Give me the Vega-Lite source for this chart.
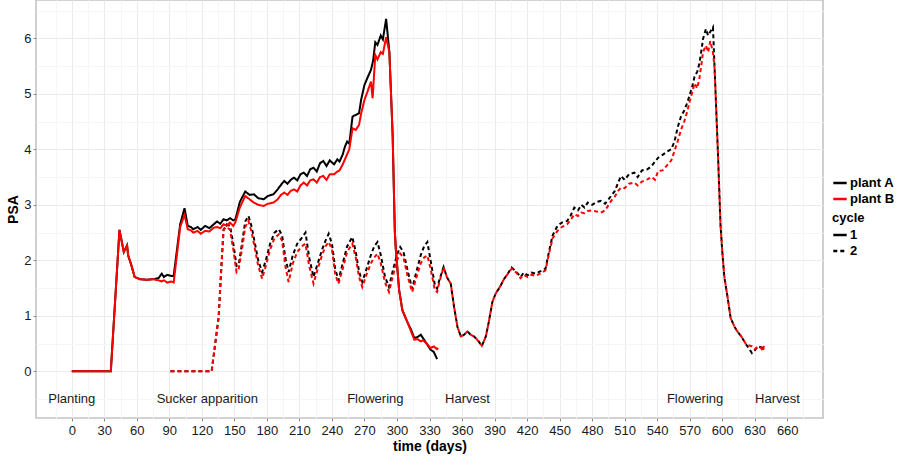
{
  "$schema": "https://vega.github.io/schema/vega-lite/v6.json",
  "width": 787,
  "height": 418,
  "autosize": "none",
  "padding": {"left": 36, "top": 0, "right": 75, "bottom": 41},
  "background": "white",
  "config": {
    "font": "Liberation Sans",
    "view": {"stroke": "#c4c4c4", "strokeWidth": 1.6},
    "axis": {"labelFont": "Liberation Sans", "titleFont": "Liberation Sans"},
    "legend": {"labelFont": "Liberation Sans", "titleFont": "Liberation Sans"}
  },
  "resolve": {"axis": {"x": "independent", "y": "independent"}},
  "layer": [
    {
      "data": {"values": [
        {"day": 0, "psa": -0.5, "label": "Planting"},
        {"day": 125, "psa": -0.5, "label": "Sucker apparition"},
        {"day": 280, "psa": -0.5, "label": "Flowering"},
        {"day": 365, "psa": -0.5, "label": "Harvest"},
        {"day": 575, "psa": -0.5, "label": "Flowering"},
        {"day": 651, "psa": -0.5, "label": "Harvest"}
      ]},
      "mark": {"type": "text", "fontSize": 13, "color": "#1a1a1a", "baseline": "middle", "align": "center"},
      "encoding": {
        "x": {"field": "day", "type": "quantitative", "scale": {"domain": [-33, 693], "nice": false, "zero": false},
          "axis": {"orient": "bottom", "values": [-15, 15, 45, 75, 105, 135, 165, 195, 225, 255, 285, 315, 345, 375, 405, 435, 465, 495, 525, 555, 585, 615, 645, 675], "grid": true, "gridColor": "#f6f6f6", "gridWidth": 1, "labels": false, "ticks": false, "domain": false, "title": null}},
        "y": {"field": "psa", "type": "quantitative", "scale": {"domain": [-0.84, 6.69], "nice": false, "zero": false},
          "axis": {"orient": "left", "values": [-0.5, 0.5, 1.5, 2.5, 3.5, 4.5, 5.5, 6.5], "grid": true, "gridColor": "#f6f6f6", "gridWidth": 1, "labels": false, "ticks": false, "domain": false, "title": null}},
        "text": {"field": "label"}
      }
    },
    {
      "data": {"values": [
        {"day":0,"psa":0,"plant":"plant A","cycle":"1"},{"day":36,"psa":0,"plant":"plant A","cycle":"1"},{"day":44,"psa":2.55,"plant":"plant A","cycle":"1"},{"day":48,"psa":2.15,"plant":"plant A","cycle":"1"},{"day":51,"psa":2.27,"plant":"plant A","cycle":"1"},{"day":52,"psa":2.09,"plant":"plant A","cycle":"1"},{"day":55,"psa":1.91,"plant":"plant A","cycle":"1"},{"day":58,"psa":1.7,"plant":"plant A","cycle":"1"},{"day":63,"psa":1.66,"plant":"plant A","cycle":"1"},{"day":69,"psa":1.65,"plant":"plant A","cycle":"1"},{"day":75,"psa":1.66,"plant":"plant A","cycle":"1"},{"day":80,"psa":1.68,"plant":"plant A","cycle":"1"},{"day":83,"psa":1.76,"plant":"plant A","cycle":"1"},{"day":85,"psa":1.7,"plant":"plant A","cycle":"1"},{"day":88,"psa":1.74,"plant":"plant A","cycle":"1"},{"day":92,"psa":1.72,"plant":"plant A","cycle":"1"},{"day":94,"psa":1.72,"plant":"plant A","cycle":"1"},{"day":100,"psa":2.65,"plant":"plant A","cycle":"1"},{"day":104,"psa":2.94,"plant":"plant A","cycle":"1"},{"day":107,"psa":2.62,"plant":"plant A","cycle":"1"},{"day":110,"psa":2.6,"plant":"plant A","cycle":"1"},{"day":112,"psa":2.56,"plant":"plant A","cycle":"1"},{"day":116,"psa":2.6,"plant":"plant A","cycle":"1"},{"day":119,"psa":2.55,"plant":"plant A","cycle":"1"},{"day":123,"psa":2.62,"plant":"plant A","cycle":"1"},{"day":127,"psa":2.58,"plant":"plant A","cycle":"1"},{"day":131,"psa":2.65,"plant":"plant A","cycle":"1"},{"day":134,"psa":2.7,"plant":"plant A","cycle":"1"},{"day":137,"psa":2.66,"plant":"plant A","cycle":"1"},{"day":140,"psa":2.74,"plant":"plant A","cycle":"1"},{"day":143,"psa":2.72,"plant":"plant A","cycle":"1"},{"day":146,"psa":2.76,"plant":"plant A","cycle":"1"},{"day":149,"psa":2.72,"plant":"plant A","cycle":"1"},{"day":151,"psa":2.74,"plant":"plant A","cycle":"1"},{"day":155,"psa":3.05,"plant":"plant A","cycle":"1"},{"day":160,"psa":3.24,"plant":"plant A","cycle":"1"},{"day":164,"psa":3.18,"plant":"plant A","cycle":"1"},{"day":168,"psa":3.19,"plant":"plant A","cycle":"1"},{"day":172,"psa":3.12,"plant":"plant A","cycle":"1"},{"day":177,"psa":3.1,"plant":"plant A","cycle":"1"},{"day":181,"psa":3.16,"plant":"plant A","cycle":"1"},{"day":186,"psa":3.19,"plant":"plant A","cycle":"1"},{"day":190,"psa":3.28,"plant":"plant A","cycle":"1"},{"day":193,"psa":3.36,"plant":"plant A","cycle":"1"},{"day":196,"psa":3.43,"plant":"plant A","cycle":"1"},{"day":199,"psa":3.38,"plant":"plant A","cycle":"1"},{"day":202,"psa":3.45,"plant":"plant A","cycle":"1"},{"day":205,"psa":3.49,"plant":"plant A","cycle":"1"},{"day":208,"psa":3.44,"plant":"plant A","cycle":"1"},{"day":211,"psa":3.55,"plant":"plant A","cycle":"1"},{"day":214,"psa":3.58,"plant":"plant A","cycle":"1"},{"day":217,"psa":3.52,"plant":"plant A","cycle":"1"},{"day":220,"psa":3.64,"plant":"plant A","cycle":"1"},{"day":223,"psa":3.67,"plant":"plant A","cycle":"1"},{"day":226,"psa":3.6,"plant":"plant A","cycle":"1"},{"day":229,"psa":3.75,"plant":"plant A","cycle":"1"},{"day":232,"psa":3.79,"plant":"plant A","cycle":"1"},{"day":235,"psa":3.7,"plant":"plant A","cycle":"1"},{"day":238,"psa":3.8,"plant":"plant A","cycle":"1"},{"day":242,"psa":3.73,"plant":"plant A","cycle":"1"},{"day":245,"psa":3.82,"plant":"plant A","cycle":"1"},{"day":247,"psa":3.78,"plant":"plant A","cycle":"1"},{"day":250,"psa":3.91,"plant":"plant A","cycle":"1"},{"day":252,"psa":4.05,"plant":"plant A","cycle":"1"},{"day":254,"psa":4.14,"plant":"plant A","cycle":"1"},{"day":256,"psa":4.1,"plant":"plant A","cycle":"1"},{"day":259,"psa":4.59,"plant":"plant A","cycle":"1"},{"day":262,"psa":4.62,"plant":"plant A","cycle":"1"},{"day":265,"psa":4.65,"plant":"plant A","cycle":"1"},{"day":267,"psa":4.9,"plant":"plant A","cycle":"1"},{"day":270,"psa":5.16,"plant":"plant A","cycle":"1"},{"day":273,"psa":5.3,"plant":"plant A","cycle":"1"},{"day":276,"psa":5.43,"plant":"plant A","cycle":"1"},{"day":278,"psa":5.6,"plant":"plant A","cycle":"1"},{"day":280,"psa":5.93,"plant":"plant A","cycle":"1"},{"day":282,"psa":5.88,"plant":"plant A","cycle":"1"},{"day":285,"psa":6.05,"plant":"plant A","cycle":"1"},{"day":287,"psa":5.98,"plant":"plant A","cycle":"1"},{"day":290,"psa":6.35,"plant":"plant A","cycle":"1"},{"day":293,"psa":5.75,"plant":"plant A","cycle":"1"},{"day":296,"psa":4.26,"plant":"plant A","cycle":"1"},{"day":298,"psa":2.53,"plant":"plant A","cycle":"1"},{"day":299,"psa":2.18,"plant":"plant A","cycle":"1"},{"day":302,"psa":1.46,"plant":"plant A","cycle":"1"},{"day":305,"psa":1.1,"plant":"plant A","cycle":"1"},{"day":310,"psa":0.87,"plant":"plant A","cycle":"1"},{"day":313,"psa":0.75,"plant":"plant A","cycle":"1"},{"day":316,"psa":0.6,"plant":"plant A","cycle":"1"},{"day":319,"psa":0.62,"plant":"plant A","cycle":"1"},{"day":322,"psa":0.66,"plant":"plant A","cycle":"1"},{"day":324,"psa":0.6,"plant":"plant A","cycle":"1"},{"day":327,"psa":0.51,"plant":"plant A","cycle":"1"},{"day":331,"psa":0.39,"plant":"plant A","cycle":"1"},{"day":334,"psa":0.35,"plant":"plant A","cycle":"1"},{"day":337,"psa":0.22,"plant":"plant A","cycle":"1"},

        {"day":91,"psa":0,"plant":"plant A","cycle":"2"},{"day":129,"psa":0,"plant":"plant A","cycle":"2"},{"day":132,"psa":0.45,"plant":"plant A","cycle":"2"},{"day":135.5,"psa":0.98,"plant":"plant A","cycle":"2"},{"day":138,"psa":1.88,"plant":"plant A","cycle":"2"},{"day":140,"psa":2.55,"plant":"plant A","cycle":"2"},{"day":143,"psa":2.65,"plant":"plant A","cycle":"2"},{"day":146,"psa":2.62,"plant":"plant A","cycle":"2"},{"day":149,"psa":2.3,"plant":"plant A","cycle":"2"},{"day":152,"psa":1.9,"plant":"plant A","cycle":"2"},{"day":154,"psa":1.92,"plant":"plant A","cycle":"2"},{"day":157,"psa":2.3,"plant":"plant A","cycle":"2"},{"day":160,"psa":2.7,"plant":"plant A","cycle":"2"},{"day":163,"psa":2.8,"plant":"plant A","cycle":"2"},{"day":166,"psa":2.6,"plant":"plant A","cycle":"2"},{"day":169,"psa":2.3,"plant":"plant A","cycle":"2"},{"day":172,"psa":2.0,"plant":"plant A","cycle":"2"},{"day":175.6,"psa":1.79,"plant":"plant A","cycle":"2"},{"day":179,"psa":2.0,"plant":"plant A","cycle":"2"},{"day":183,"psa":2.3,"plant":"plant A","cycle":"2"},{"day":187,"psa":2.5,"plant":"plant A","cycle":"2"},{"day":191,"psa":2.56,"plant":"plant A","cycle":"2"},{"day":194,"psa":2.45,"plant":"plant A","cycle":"2"},{"day":197,"psa":2.05,"plant":"plant A","cycle":"2"},{"day":200,"psa":1.79,"plant":"plant A","cycle":"2"},{"day":204,"psa":2.1,"plant":"plant A","cycle":"2"},{"day":208,"psa":2.3,"plant":"plant A","cycle":"2"},{"day":212,"psa":2.4,"plant":"plant A","cycle":"2"},{"day":215.6,"psa":2.5,"plant":"plant A","cycle":"2"},{"day":219,"psa":2.05,"plant":"plant A","cycle":"2"},{"day":223,"psa":1.7,"plant":"plant A","cycle":"2"},{"day":227,"psa":1.95,"plant":"plant A","cycle":"2"},{"day":231,"psa":2.2,"plant":"plant A","cycle":"2"},{"day":234,"psa":2.35,"plant":"plant A","cycle":"2"},{"day":237,"psa":2.48,"plant":"plant A","cycle":"2"},{"day":240,"psa":2.3,"plant":"plant A","cycle":"2"},{"day":243,"psa":1.85,"plant":"plant A","cycle":"2"},{"day":246,"psa":1.64,"plant":"plant A","cycle":"2"},{"day":250,"psa":1.95,"plant":"plant A","cycle":"2"},{"day":254,"psa":2.25,"plant":"plant A","cycle":"2"},{"day":258.8,"psa":2.42,"plant":"plant A","cycle":"2"},{"day":262,"psa":2.15,"plant":"plant A","cycle":"2"},{"day":265,"psa":1.8,"plant":"plant A","cycle":"2"},{"day":268,"psa":1.61,"plant":"plant A","cycle":"2"},{"day":272,"psa":1.85,"plant":"plant A","cycle":"2"},{"day":276,"psa":2.1,"plant":"plant A","cycle":"2"},{"day":279,"psa":2.25,"plant":"plant A","cycle":"2"},{"day":282,"psa":2.33,"plant":"plant A","cycle":"2"},{"day":285,"psa":2.1,"plant":"plant A","cycle":"2"},{"day":289,"psa":1.7,"plant":"plant A","cycle":"2"},{"day":292.6,"psa":1.52,"plant":"plant A","cycle":"2"},{"day":296,"psa":1.8,"plant":"plant A","cycle":"2"},{"day":300,"psa":2.1,"plant":"plant A","cycle":"2"},{"day":303,"psa":2.24,"plant":"plant A","cycle":"2"},{"day":306,"psa":2.15,"plant":"plant A","cycle":"2"},{"day":310,"psa":1.8,"plant":"plant A","cycle":"2"},{"day":314,"psa":1.49,"plant":"plant A","cycle":"2"},{"day":318,"psa":1.8,"plant":"plant A","cycle":"2"},{"day":322,"psa":2.1,"plant":"plant A","cycle":"2"},{"day":325,"psa":2.25,"plant":"plant A","cycle":"2"},{"day":328,"psa":2.33,"plant":"plant A","cycle":"2"},{"day":331,"psa":2.0,"plant":"plant A","cycle":"2"},{"day":335,"psa":1.55,"plant":"plant A","cycle":"2"},{"day":337,"psa":1.49,"plant":"plant A","cycle":"2"},{"day":339,"psa":1.64,"plant":"plant A","cycle":"2"},{"day":343,"psa":1.88,"plant":"plant A","cycle":"2"},{"day":346,"psa":1.7,"plant":"plant A","cycle":"2"},{"day":349.6,"psa":1.58,"plant":"plant A","cycle":"2"},{"day":352.7,"psa":1.16,"plant":"plant A","cycle":"2"},{"day":355.8,"psa":0.8,"plant":"plant A","cycle":"2"},{"day":358.9,"psa":0.63,"plant":"plant A","cycle":"2"},{"day":362,"psa":0.66,"plant":"plant A","cycle":"2"},{"day":365,"psa":0.72,"plant":"plant A","cycle":"2"},{"day":368,"psa":0.66,"plant":"plant A","cycle":"2"},{"day":371,"psa":0.63,"plant":"plant A","cycle":"2"},{"day":375,"psa":0.55,"plant":"plant A","cycle":"2"},{"day":378.3,"psa":0.46,"plant":"plant A","cycle":"2"},{"day":382,"psa":0.63,"plant":"plant A","cycle":"2"},{"day":385,"psa":0.92,"plant":"plant A","cycle":"2"},{"day":388,"psa":1.25,"plant":"plant A","cycle":"2"},{"day":391,"psa":1.4,"plant":"plant A","cycle":"2"},{"day":394,"psa":1.49,"plant":"plant A","cycle":"2"},{"day":399,"psa":1.67,"plant":"plant A","cycle":"2"},{"day":402,"psa":1.75,"plant":"plant A","cycle":"2"},{"day":405.7,"psa":1.87,"plant":"plant A","cycle":"2"},{"day":410,"psa":1.8,"plant":"plant A","cycle":"2"},{"day":414,"psa":1.7,"plant":"plant A","cycle":"2"},{"day":417,"psa":1.78,"plant":"plant A","cycle":"2"},{"day":420.5,"psa":1.73,"plant":"plant A","cycle":"2"},{"day":424,"psa":1.78,"plant":"plant A","cycle":"2"},{"day":428,"psa":1.76,"plant":"plant A","cycle":"2"},{"day":432,"psa":1.8,"plant":"plant A","cycle":"2"},{"day":437,"psa":1.85,"plant":"plant A","cycle":"2"},{"day":440.5,"psa":2.18,"plant":"plant A","cycle":"2"},{"day":443.6,"psa":2.45,"plant":"plant A","cycle":"2"},{"day":448,"psa":2.62,"plant":"plant A","cycle":"2"},{"day":452,"psa":2.68,"plant":"plant A","cycle":"2"},{"day":457,"psa":2.71,"plant":"plant A","cycle":"2"},{"day":460,"psa":2.8,"plant":"plant A","cycle":"2"},{"day":463.6,"psa":2.95,"plant":"plant A","cycle":"2"},{"day":467,"psa":2.9,"plant":"plant A","cycle":"2"},{"day":470,"psa":3.0,"plant":"plant A","cycle":"2"},{"day":473,"psa":2.95,"plant":"plant A","cycle":"2"},{"day":476,"psa":3.04,"plant":"plant A","cycle":"2"},{"day":480,"psa":3.0,"plant":"plant A","cycle":"2"},{"day":484,"psa":3.05,"plant":"plant A","cycle":"2"},{"day":488,"psa":3.07,"plant":"plant A","cycle":"2"},{"day":492,"psa":3.02,"plant":"plant A","cycle":"2"},{"day":497.5,"psa":3.16,"plant":"plant A","cycle":"2"},{"day":501,"psa":3.25,"plant":"plant A","cycle":"2"},{"day":504,"psa":3.4,"plant":"plant A","cycle":"2"},{"day":506.7,"psa":3.52,"plant":"plant A","cycle":"2"},{"day":510,"psa":3.45,"plant":"plant A","cycle":"2"},{"day":514,"psa":3.55,"plant":"plant A","cycle":"2"},{"day":519,"psa":3.58,"plant":"plant A","cycle":"2"},{"day":522,"psa":3.5,"plant":"plant A","cycle":"2"},{"day":526,"psa":3.62,"plant":"plant A","cycle":"2"},{"day":531,"psa":3.64,"plant":"plant A","cycle":"2"},{"day":535,"psa":3.7,"plant":"plant A","cycle":"2"},{"day":538,"psa":3.78,"plant":"plant A","cycle":"2"},{"day":541,"psa":3.85,"plant":"plant A","cycle":"2"},{"day":545,"psa":3.9,"plant":"plant A","cycle":"2"},{"day":550,"psa":3.97,"plant":"plant A","cycle":"2"},{"day":553,"psa":4.0,"plant":"plant A","cycle":"2"},{"day":556,"psa":4.14,"plant":"plant A","cycle":"2"},{"day":559,"psa":4.4,"plant":"plant A","cycle":"2"},{"day":562,"psa":4.59,"plant":"plant A","cycle":"2"},{"day":565,"psa":4.7,"plant":"plant A","cycle":"2"},{"day":568,"psa":4.85,"plant":"plant A","cycle":"2"},{"day":570,"psa":4.98,"plant":"plant A","cycle":"2"},{"day":572,"psa":5.1,"plant":"plant A","cycle":"2"},{"day":574.5,"psa":5.31,"plant":"plant A","cycle":"2"},{"day":577,"psa":5.4,"plant":"plant A","cycle":"2"},{"day":579,"psa":5.55,"plant":"plant A","cycle":"2"},{"day":581,"psa":5.8,"plant":"plant A","cycle":"2"},{"day":582.3,"psa":5.99,"plant":"plant A","cycle":"2"},{"day":585,"psa":6.17,"plant":"plant A","cycle":"2"},{"day":587,"psa":6.05,"plant":"plant A","cycle":"2"},{"day":589,"psa":6.12,"plant":"plant A","cycle":"2"},{"day":591.5,"psa":6.2,"plant":"plant A","cycle":"2"},{"day":593,"psa":5.46,"plant":"plant A","cycle":"2"},{"day":596,"psa":3.97,"plant":"plant A","cycle":"2"},{"day":598.5,"psa":2.62,"plant":"plant A","cycle":"2"},{"day":600,"psa":2.18,"plant":"plant A","cycle":"2"},{"day":602,"psa":1.7,"plant":"plant A","cycle":"2"},{"day":605.4,"psa":1.28,"plant":"plant A","cycle":"2"},{"day":607.8,"psa":0.96,"plant":"plant A","cycle":"2"},{"day":611.5,"psa":0.8,"plant":"plant A","cycle":"2"},{"day":614,"psa":0.72,"plant":"plant A","cycle":"2"},{"day":617.6,"psa":0.63,"plant":"plant A","cycle":"2"},{"day":622.3,"psa":0.48,"plant":"plant A","cycle":"2"},{"day":627.5,"psa":0.33,"plant":"plant A","cycle":"2"},{"day":630,"psa":0.38,"plant":"plant A","cycle":"2"},{"day":633,"psa":0.45,"plant":"plant A","cycle":"2"},{"day":637.7,"psa":0.42,"plant":"plant A","cycle":"2"},

        {"day":0,"psa":0,"plant":"plant B","cycle":"1"},{"day":36,"psa":0,"plant":"plant B","cycle":"1"},{"day":44,"psa":2.55,"plant":"plant B","cycle":"1"},{"day":48,"psa":2.15,"plant":"plant B","cycle":"1"},{"day":51,"psa":2.27,"plant":"plant B","cycle":"1"},{"day":52,"psa":2.09,"plant":"plant B","cycle":"1"},{"day":55,"psa":1.91,"plant":"plant B","cycle":"1"},{"day":58,"psa":1.7,"plant":"plant B","cycle":"1"},{"day":63,"psa":1.66,"plant":"plant B","cycle":"1"},{"day":69,"psa":1.65,"plant":"plant B","cycle":"1"},{"day":75,"psa":1.66,"plant":"plant B","cycle":"1"},{"day":80,"psa":1.64,"plant":"plant B","cycle":"1"},{"day":83,"psa":1.62,"plant":"plant B","cycle":"1"},{"day":85,"psa":1.64,"plant":"plant B","cycle":"1"},{"day":88,"psa":1.6,"plant":"plant B","cycle":"1"},{"day":92,"psa":1.62,"plant":"plant B","cycle":"1"},{"day":94,"psa":1.6,"plant":"plant B","cycle":"1"},{"day":100,"psa":2.6,"plant":"plant B","cycle":"1"},{"day":104,"psa":2.82,"plant":"plant B","cycle":"1"},{"day":107,"psa":2.56,"plant":"plant B","cycle":"1"},{"day":110,"psa":2.54,"plant":"plant B","cycle":"1"},{"day":112,"psa":2.5,"plant":"plant B","cycle":"1"},{"day":116,"psa":2.53,"plant":"plant B","cycle":"1"},{"day":119,"psa":2.48,"plant":"plant B","cycle":"1"},{"day":123,"psa":2.53,"plant":"plant B","cycle":"1"},{"day":127,"psa":2.52,"plant":"plant B","cycle":"1"},{"day":131,"psa":2.59,"plant":"plant B","cycle":"1"},{"day":134,"psa":2.6,"plant":"plant B","cycle":"1"},{"day":137,"psa":2.58,"plant":"plant B","cycle":"1"},{"day":140,"psa":2.65,"plant":"plant B","cycle":"1"},{"day":143,"psa":2.62,"plant":"plant B","cycle":"1"},{"day":146,"psa":2.68,"plant":"plant B","cycle":"1"},{"day":149,"psa":2.62,"plant":"plant B","cycle":"1"},{"day":151,"psa":2.69,"plant":"plant B","cycle":"1"},{"day":155,"psa":2.95,"plant":"plant B","cycle":"1"},{"day":160,"psa":3.16,"plant":"plant B","cycle":"1"},{"day":164,"psa":3.1,"plant":"plant B","cycle":"1"},{"day":168,"psa":3.04,"plant":"plant B","cycle":"1"},{"day":172,"psa":3.0,"plant":"plant B","cycle":"1"},{"day":177,"psa":2.98,"plant":"plant B","cycle":"1"},{"day":181,"psa":3.02,"plant":"plant B","cycle":"1"},{"day":186,"psa":3.04,"plant":"plant B","cycle":"1"},{"day":190,"psa":3.1,"plant":"plant B","cycle":"1"},{"day":193,"psa":3.18,"plant":"plant B","cycle":"1"},{"day":196,"psa":3.22,"plant":"plant B","cycle":"1"},{"day":199,"psa":3.18,"plant":"plant B","cycle":"1"},{"day":202,"psa":3.25,"plant":"plant B","cycle":"1"},{"day":205,"psa":3.28,"plant":"plant B","cycle":"1"},{"day":208,"psa":3.24,"plant":"plant B","cycle":"1"},{"day":211,"psa":3.35,"plant":"plant B","cycle":"1"},{"day":214,"psa":3.4,"plant":"plant B","cycle":"1"},{"day":217,"psa":3.35,"plant":"plant B","cycle":"1"},{"day":220,"psa":3.44,"plant":"plant B","cycle":"1"},{"day":223,"psa":3.46,"plant":"plant B","cycle":"1"},{"day":226,"psa":3.4,"plant":"plant B","cycle":"1"},{"day":229,"psa":3.5,"plant":"plant B","cycle":"1"},{"day":232,"psa":3.52,"plant":"plant B","cycle":"1"},{"day":235,"psa":3.45,"plant":"plant B","cycle":"1"},{"day":238,"psa":3.55,"plant":"plant B","cycle":"1"},{"day":242,"psa":3.55,"plant":"plant B","cycle":"1"},{"day":245,"psa":3.6,"plant":"plant B","cycle":"1"},{"day":247,"psa":3.62,"plant":"plant B","cycle":"1"},{"day":250,"psa":3.73,"plant":"plant B","cycle":"1"},{"day":252,"psa":3.82,"plant":"plant B","cycle":"1"},{"day":254,"psa":3.91,"plant":"plant B","cycle":"1"},{"day":256,"psa":4.0,"plant":"plant B","cycle":"1"},{"day":259,"psa":4.38,"plant":"plant B","cycle":"1"},{"day":262,"psa":4.35,"plant":"plant B","cycle":"1"},{"day":265,"psa":4.44,"plant":"plant B","cycle":"1"},{"day":267,"psa":4.65,"plant":"plant B","cycle":"1"},{"day":270,"psa":4.89,"plant":"plant B","cycle":"1"},{"day":273,"psa":5.05,"plant":"plant B","cycle":"1"},{"day":276,"psa":5.22,"plant":"plant B","cycle":"1"},{"day":277.5,"psa":4.92,"plant":"plant B","cycle":"1"},{"day":280,"psa":5.7,"plant":"plant B","cycle":"1"},{"day":282,"psa":5.62,"plant":"plant B","cycle":"1"},{"day":285,"psa":5.75,"plant":"plant B","cycle":"1"},{"day":287,"psa":5.72,"plant":"plant B","cycle":"1"},{"day":290,"psa":6.02,"plant":"plant B","cycle":"1"},{"day":293,"psa":5.75,"plant":"plant B","cycle":"1"},{"day":296,"psa":4.26,"plant":"plant B","cycle":"1"},{"day":298,"psa":2.53,"plant":"plant B","cycle":"1"},{"day":299,"psa":2.18,"plant":"plant B","cycle":"1"},{"day":302,"psa":1.46,"plant":"plant B","cycle":"1"},{"day":305,"psa":1.1,"plant":"plant B","cycle":"1"},{"day":310,"psa":0.87,"plant":"plant B","cycle":"1"},{"day":313,"psa":0.72,"plant":"plant B","cycle":"1"},{"day":316,"psa":0.57,"plant":"plant B","cycle":"1"},{"day":319,"psa":0.58,"plant":"plant B","cycle":"1"},{"day":322,"psa":0.54,"plant":"plant B","cycle":"1"},{"day":324,"psa":0.56,"plant":"plant B","cycle":"1"},{"day":327,"psa":0.51,"plant":"plant B","cycle":"1"},{"day":331,"psa":0.42,"plant":"plant B","cycle":"1"},{"day":334,"psa":0.45,"plant":"plant B","cycle":"1"},{"day":337,"psa":0.4,"plant":"plant B","cycle":"1"},{"day":338,"psa":0.42,"plant":"plant B","cycle":"1"},

        {"day":91,"psa":0,"plant":"plant B","cycle":"2"},{"day":129,"psa":0,"plant":"plant B","cycle":"2"},{"day":132,"psa":0.45,"plant":"plant B","cycle":"2"},{"day":135.5,"psa":0.98,"plant":"plant B","cycle":"2"},{"day":138,"psa":1.88,"plant":"plant B","cycle":"2"},{"day":140,"psa":2.55,"plant":"plant B","cycle":"2"},{"day":143,"psa":2.6,"plant":"plant B","cycle":"2"},{"day":146,"psa":2.55,"plant":"plant B","cycle":"2"},{"day":149,"psa":2.2,"plant":"plant B","cycle":"2"},{"day":152,"psa":1.79,"plant":"plant B","cycle":"2"},{"day":154,"psa":1.85,"plant":"plant B","cycle":"2"},{"day":157,"psa":2.2,"plant":"plant B","cycle":"2"},{"day":160,"psa":2.6,"plant":"plant B","cycle":"2"},{"day":163,"psa":2.71,"plant":"plant B","cycle":"2"},{"day":166,"psa":2.5,"plant":"plant B","cycle":"2"},{"day":169,"psa":2.2,"plant":"plant B","cycle":"2"},{"day":172,"psa":1.9,"plant":"plant B","cycle":"2"},{"day":175.6,"psa":1.67,"plant":"plant B","cycle":"2"},{"day":179,"psa":1.9,"plant":"plant B","cycle":"2"},{"day":183,"psa":2.2,"plant":"plant B","cycle":"2"},{"day":187,"psa":2.4,"plant":"plant B","cycle":"2"},{"day":191,"psa":2.47,"plant":"plant B","cycle":"2"},{"day":194,"psa":2.35,"plant":"plant B","cycle":"2"},{"day":197,"psa":1.9,"plant":"plant B","cycle":"2"},{"day":200,"psa":1.61,"plant":"plant B","cycle":"2"},{"day":204,"psa":1.95,"plant":"plant B","cycle":"2"},{"day":208,"psa":2.15,"plant":"plant B","cycle":"2"},{"day":212,"psa":2.25,"plant":"plant B","cycle":"2"},{"day":215.6,"psa":2.3,"plant":"plant B","cycle":"2"},{"day":219,"psa":1.9,"plant":"plant B","cycle":"2"},{"day":223,"psa":1.58,"plant":"plant B","cycle":"2"},{"day":227,"psa":1.85,"plant":"plant B","cycle":"2"},{"day":231,"psa":2.1,"plant":"plant B","cycle":"2"},{"day":234,"psa":2.25,"plant":"plant B","cycle":"2"},{"day":237,"psa":2.33,"plant":"plant B","cycle":"2"},{"day":240,"psa":2.2,"plant":"plant B","cycle":"2"},{"day":243,"psa":1.75,"plant":"plant B","cycle":"2"},{"day":246,"psa":1.58,"plant":"plant B","cycle":"2"},{"day":250,"psa":1.85,"plant":"plant B","cycle":"2"},{"day":254,"psa":2.15,"plant":"plant B","cycle":"2"},{"day":258.8,"psa":2.3,"plant":"plant B","cycle":"2"},{"day":262,"psa":2.05,"plant":"plant B","cycle":"2"},{"day":265,"psa":1.7,"plant":"plant B","cycle":"2"},{"day":268,"psa":1.52,"plant":"plant B","cycle":"2"},{"day":272,"psa":1.75,"plant":"plant B","cycle":"2"},{"day":276,"psa":1.95,"plant":"plant B","cycle":"2"},{"day":279,"psa":2.05,"plant":"plant B","cycle":"2"},{"day":282,"psa":2.12,"plant":"plant B","cycle":"2"},{"day":285,"psa":1.95,"plant":"plant B","cycle":"2"},{"day":289,"psa":1.6,"plant":"plant B","cycle":"2"},{"day":292.6,"psa":1.43,"plant":"plant B","cycle":"2"},{"day":296,"psa":1.7,"plant":"plant B","cycle":"2"},{"day":300,"psa":2.0,"plant":"plant B","cycle":"2"},{"day":303,"psa":2.12,"plant":"plant B","cycle":"2"},{"day":306,"psa":2.05,"plant":"plant B","cycle":"2"},{"day":310,"psa":1.7,"plant":"plant B","cycle":"2"},{"day":314,"psa":1.43,"plant":"plant B","cycle":"2"},{"day":318,"psa":1.7,"plant":"plant B","cycle":"2"},{"day":322,"psa":1.95,"plant":"plant B","cycle":"2"},{"day":325,"psa":2.05,"plant":"plant B","cycle":"2"},{"day":328,"psa":2.09,"plant":"plant B","cycle":"2"},{"day":331,"psa":1.85,"plant":"plant B","cycle":"2"},{"day":335,"psa":1.46,"plant":"plant B","cycle":"2"},{"day":337,"psa":1.43,"plant":"plant B","cycle":"2"},{"day":339,"psa":1.6,"plant":"plant B","cycle":"2"},{"day":343,"psa":1.88,"plant":"plant B","cycle":"2"},{"day":346,"psa":1.7,"plant":"plant B","cycle":"2"},{"day":349.6,"psa":1.58,"plant":"plant B","cycle":"2"},{"day":352.7,"psa":1.16,"plant":"plant B","cycle":"2"},{"day":355.8,"psa":0.8,"plant":"plant B","cycle":"2"},{"day":358.9,"psa":0.63,"plant":"plant B","cycle":"2"},{"day":362,"psa":0.66,"plant":"plant B","cycle":"2"},{"day":365,"psa":0.72,"plant":"plant B","cycle":"2"},{"day":368,"psa":0.66,"plant":"plant B","cycle":"2"},{"day":371,"psa":0.63,"plant":"plant B","cycle":"2"},{"day":375,"psa":0.55,"plant":"plant B","cycle":"2"},{"day":378.3,"psa":0.46,"plant":"plant B","cycle":"2"},{"day":382,"psa":0.63,"plant":"plant B","cycle":"2"},{"day":385,"psa":0.92,"plant":"plant B","cycle":"2"},{"day":388,"psa":1.25,"plant":"plant B","cycle":"2"},{"day":391,"psa":1.4,"plant":"plant B","cycle":"2"},{"day":394,"psa":1.49,"plant":"plant B","cycle":"2"},{"day":399,"psa":1.67,"plant":"plant B","cycle":"2"},{"day":402,"psa":1.75,"plant":"plant B","cycle":"2"},{"day":405.7,"psa":1.85,"plant":"plant B","cycle":"2"},{"day":410,"psa":1.78,"plant":"plant B","cycle":"2"},{"day":414,"psa":1.68,"plant":"plant B","cycle":"2"},{"day":417,"psa":1.74,"plant":"plant B","cycle":"2"},{"day":420.5,"psa":1.7,"plant":"plant B","cycle":"2"},{"day":424,"psa":1.74,"plant":"plant B","cycle":"2"},{"day":428,"psa":1.72,"plant":"plant B","cycle":"2"},{"day":432,"psa":1.76,"plant":"plant B","cycle":"2"},{"day":437,"psa":1.82,"plant":"plant B","cycle":"2"},{"day":440.5,"psa":2.14,"plant":"plant B","cycle":"2"},{"day":443.6,"psa":2.4,"plant":"plant B","cycle":"2"},{"day":448,"psa":2.53,"plant":"plant B","cycle":"2"},{"day":452,"psa":2.6,"plant":"plant B","cycle":"2"},{"day":457,"psa":2.65,"plant":"plant B","cycle":"2"},{"day":460,"psa":2.72,"plant":"plant B","cycle":"2"},{"day":463.6,"psa":2.83,"plant":"plant B","cycle":"2"},{"day":467,"psa":2.8,"plant":"plant B","cycle":"2"},{"day":470,"psa":2.86,"plant":"plant B","cycle":"2"},{"day":473,"psa":2.85,"plant":"plant B","cycle":"2"},{"day":476,"psa":2.89,"plant":"plant B","cycle":"2"},{"day":480,"psa":2.9,"plant":"plant B","cycle":"2"},{"day":484,"psa":2.88,"plant":"plant B","cycle":"2"},{"day":488,"psa":2.86,"plant":"plant B","cycle":"2"},{"day":492,"psa":2.9,"plant":"plant B","cycle":"2"},{"day":497.5,"psa":3.07,"plant":"plant B","cycle":"2"},{"day":501,"psa":3.15,"plant":"plant B","cycle":"2"},{"day":504,"psa":3.25,"plant":"plant B","cycle":"2"},{"day":506.7,"psa":3.31,"plant":"plant B","cycle":"2"},{"day":510,"psa":3.3,"plant":"plant B","cycle":"2"},{"day":514,"psa":3.38,"plant":"plant B","cycle":"2"},{"day":519,"psa":3.4,"plant":"plant B","cycle":"2"},{"day":522,"psa":3.35,"plant":"plant B","cycle":"2"},{"day":526,"psa":3.42,"plant":"plant B","cycle":"2"},{"day":531,"psa":3.46,"plant":"plant B","cycle":"2"},{"day":535,"psa":3.5,"plant":"plant B","cycle":"2"},{"day":538,"psa":3.45,"plant":"plant B","cycle":"2"},{"day":541,"psa":3.61,"plant":"plant B","cycle":"2"},{"day":545,"psa":3.62,"plant":"plant B","cycle":"2"},{"day":550,"psa":3.73,"plant":"plant B","cycle":"2"},{"day":553,"psa":3.8,"plant":"plant B","cycle":"2"},{"day":556,"psa":3.97,"plant":"plant B","cycle":"2"},{"day":559,"psa":4.15,"plant":"plant B","cycle":"2"},{"day":562,"psa":4.35,"plant":"plant B","cycle":"2"},{"day":565,"psa":4.5,"plant":"plant B","cycle":"2"},{"day":568,"psa":4.7,"plant":"plant B","cycle":"2"},{"day":570,"psa":4.86,"plant":"plant B","cycle":"2"},{"day":572,"psa":5.0,"plant":"plant B","cycle":"2"},{"day":574.5,"psa":5.19,"plant":"plant B","cycle":"2"},{"day":577,"psa":5.1,"plant":"plant B","cycle":"2"},{"day":579,"psa":5.28,"plant":"plant B","cycle":"2"},{"day":581,"psa":5.55,"plant":"plant B","cycle":"2"},{"day":582.3,"psa":5.75,"plant":"plant B","cycle":"2"},{"day":585,"psa":5.87,"plant":"plant B","cycle":"2"},{"day":587,"psa":5.75,"plant":"plant B","cycle":"2"},{"day":589,"psa":5.95,"plant":"plant B","cycle":"2"},{"day":591.5,"psa":5.75,"plant":"plant B","cycle":"2"},{"day":593,"psa":5.46,"plant":"plant B","cycle":"2"},{"day":596,"psa":3.97,"plant":"plant B","cycle":"2"},{"day":598.5,"psa":2.62,"plant":"plant B","cycle":"2"},{"day":600,"psa":2.18,"plant":"plant B","cycle":"2"},{"day":602,"psa":1.7,"plant":"plant B","cycle":"2"},{"day":605.4,"psa":1.28,"plant":"plant B","cycle":"2"},{"day":607.8,"psa":0.96,"plant":"plant B","cycle":"2"},{"day":611.5,"psa":0.8,"plant":"plant B","cycle":"2"},{"day":614,"psa":0.72,"plant":"plant B","cycle":"2"},{"day":617.6,"psa":0.63,"plant":"plant B","cycle":"2"},{"day":622.3,"psa":0.48,"plant":"plant B","cycle":"2"},{"day":627.5,"psa":0.45,"plant":"plant B","cycle":"2"},{"day":630,"psa":0.4,"plant":"plant B","cycle":"2"},{"day":633,"psa":0.45,"plant":"plant B","cycle":"2"},{"day":636,"psa":0.42,"plant":"plant B","cycle":"2"},{"day":637.7,"psa":0.36,"plant":"plant B","cycle":"2"},{"day":638.5,"psa":0.48,"plant":"plant B","cycle":"2"}
      ]},
      "mark": {"type": "line", "strokeWidth": 2, "interpolate": "linear"},
      "encoding": {
        "x": {"field": "day", "type": "quantitative", "scale": {"domain": [-33, 693], "nice": false, "zero": false},
          "axis": {"orient": "bottom", "values": [0, 30, 60, 90, 120, 150, 180, 210, 240, 270, 300, 330, 360, 390, 420, 450, 480, 510, 540, 570, 600, 630, 660], "grid": true, "gridColor": "#ebebeb", "gridWidth": 1, "domain": false, "ticks": true, "tickColor": "#8a8a8a", "tickSize": 3, "labelFontSize": 13, "labelColor": "#1a1a1a", "labelPadding": 3, "title": "time (days)", "titleFontSize": 14, "titleFontWeight": "bold", "titleColor": "#000000", "titlePadding": 2}},
        "y": {"field": "psa", "type": "quantitative", "scale": {"domain": [-0.84, 6.69], "nice": false, "zero": false},
          "axis": {"orient": "left", "values": [0, 1, 2, 3, 4, 5, 6], "grid": true, "gridColor": "#ebebeb", "gridWidth": 1, "domain": false, "ticks": true, "tickColor": "#8a8a8a", "tickSize": 3, "labelFontSize": 13, "labelColor": "#1a1a1a", "labelPadding": 2, "title": "PSA", "titleFontSize": 14, "titleFontWeight": "bold", "titleColor": "#000000", "titlePadding": 3}},
        "color": {"field": "plant", "type": "nominal", "scale": {"domain": ["plant A", "plant B"], "range": ["#000000", "#ff0000"]},
          "legend": {"title": null, "orient": "none", "legendX": 796, "legendY": 175, "symbolType": "stroke", "symbolStrokeWidth": 2.5, "symbolSize": 180, "labelFontSize": 13, "labelFontWeight": "bold", "labelColor": "#000000", "rowPadding": 1, "labelOffset": 2}},
        "strokeDash": {"field": "cycle", "type": "nominal", "scale": {"domain": ["1", "2"], "range": [[1, 0], [4, 3]]},
          "legend": {"title": "cycle", "titleFontSize": 13, "titleFontWeight": "bold", "titleColor": "#000000", "titlePadding": 2, "orient": "none", "legendX": 796, "legendY": 212, "symbolType": "stroke", "symbolStrokeWidth": 2.5, "symbolSize": 180, "symbolStrokeColor": "#000000", "labelFontSize": 13, "labelFontWeight": "bold", "labelColor": "#000000", "rowPadding": 1, "labelOffset": 2}},
        "detail": {"field": "plant"}
      }
    }
  ]
}
